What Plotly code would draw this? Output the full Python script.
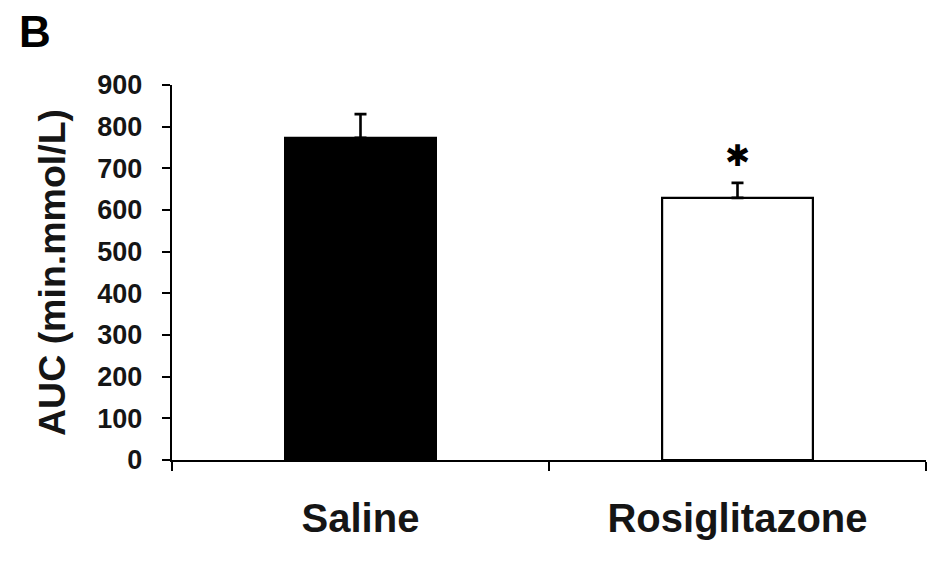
import plotly.graph_objects as go

categories = ["Saline", "Rosiglitazone"]
auc_mean = [773, 629]
auc_sem = [57, 36]
bar_colors = ["#000000", "#ffffff"]
y_ticks = [0, 100, 200, 300, 400, 500, 600, 700, 800, 900]
significance = ["", "✱"]

FONT = "Arial, Liberation Sans, sans-serif"

fig = go.Figure()
fig.add_trace(go.Bar(
    x=categories,
    y=auc_mean,
    width=0.4,
    marker=dict(color=bar_colors, line=dict(color="#000000", width=2.2)),
    error_y=dict(type="data", symmetric=False, array=auc_sem,
                 arrayminus=[0, 0], color="#000000", thickness=2.6, width=6),
    showlegend=False,
))

for c, m, e, s in zip(categories, auc_mean, auc_sem, significance):
    if s:
        fig.add_annotation(x=c, y=m + e, text=s, showarrow=False,
                           yshift=27, font=dict(family="DejaVu Sans", size=30, color="#000"))

fig.add_annotation(text="<b>B</b>", xref="paper", yref="paper", x=-0.205, y=1.142,
                   xanchor="left", yanchor="middle", showarrow=False,
                   font=dict(family=FONT, size=44, color="#000"))

fig.update_layout(
    width=950, height=564,
    margin=dict(l=164, r=32, t=77, b=112),
    paper_bgcolor="white", plot_bgcolor="white",
    font=dict(family=FONT, color="#111"),
)
fig.update_xaxes(
    type="category",
    showline=True, linecolor="#000", linewidth=2.4,
    ticks="outside", tickson="boundaries", ticklen=9, tickwidth=2, tickcolor="#000",
    ticklabelstandoff=22,
    tickfont=dict(family=FONT, size=40, color="#151515", weight="bold"),
    showgrid=False, zeroline=False,
)
fig.update_yaxes(
    range=[0, 900],
    tickvals=y_ticks,
    showline=True, linecolor="#000", linewidth=2.4,
    ticks="outside", ticklen=8, tickwidth=2, tickcolor="#000",
    ticklabelstandoff=14,
    tickfont=dict(family=FONT, size=27, color="#151515", weight="bold"),
    title=dict(text="AUC (min.mmol/L)", standoff=20,
               font=dict(family=FONT, size=37.5, color="#151515", weight="bold")),
    showgrid=False, zeroline=False,
)

fig.write_html("out.html")
